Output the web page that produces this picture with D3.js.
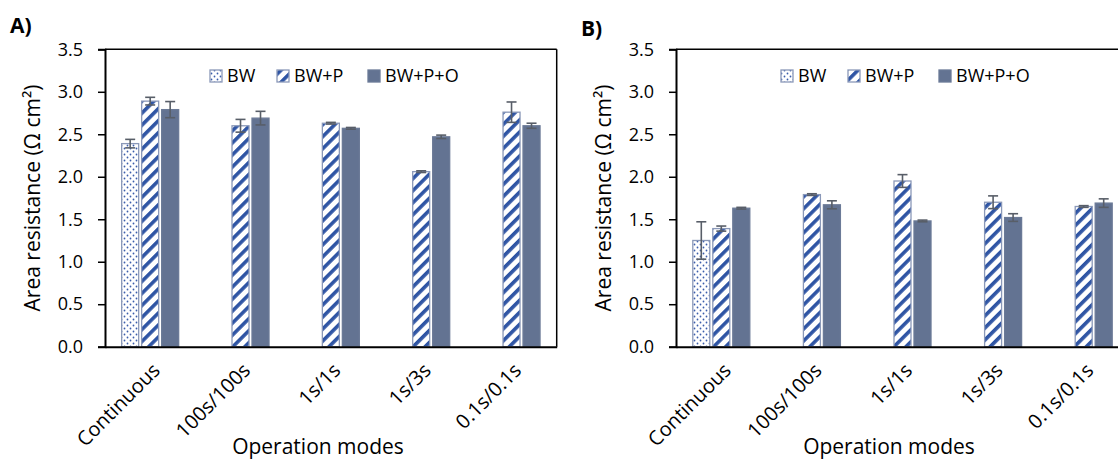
<!DOCTYPE html>
<html>
<head>
<meta charset="utf-8">
<script src="https://cdn.jsdelivr.net/npm/d3@7"></script>
<style>
  body { margin: 0; background: #fff; }
  svg { display: block; font-family: "Open Sans", sans-serif; }
</style>
</head>
<body>
<div id="chart"></div>
<script>
// data
const modes = ['Continuous', '100s/100s', '1s/1s', '1s/3s', '0.1s/0.1s'];
const seriesNames = ['BW', 'BW+P', 'BW+P+O'];
const yTicks = [0, 0.5, 1.0, 1.5, 2.0, 2.5, 3.0, 3.5];

// panel A
const aBW = [2.39, null, null, null, null];
const aBWErr = [0.05, 0, 0, 0, 0];
const aBWP = [2.89, 2.60, 2.63, 2.06, 2.76];
const aBWPErr = [0.045, 0.075, 0.01, 0.01, 0.12];
const aBWPO = [2.79, 2.69, 2.57, 2.47, 2.60];
const aBWPOErr = [0.095, 0.08, 0.01, 0.02, 0.03];

// panel B
const bBW = [1.25, null, null, null, null];
const bBWErr = [0.22, 0, 0, 0, 0];
const bBWP = [1.39, 1.79, 1.95, 1.70, 1.65];
const bBWPErr = [0.03, 0.01, 0.075, 0.075, 0.01];
const bBWPO = [1.63, 1.67, 1.48, 1.52, 1.69];
const bBWPOErr = [0.01, 0.047, 0.01, 0.045, 0.05];

const svg = d3.select('#chart').append('svg')
    .attr('width', 1118)
    .attr('height', 460);

// patterns
const defs = svg.append('defs');
const dots = defs.append('pattern')
    .attr('id', 'dots')
    .attr('patternUnits', 'userSpaceOnUse')
    .attr('width', 6).attr('height', 6);
dots.append('rect').attr('width', 6).attr('height', 6).attr('fill', '#fff');
dots.append('circle').attr('cx', 1.5).attr('cy', 1.5).attr('r', 0.9).attr('fill', '#3a5dab');
dots.append('circle').attr('cx', 4.5).attr('cy', 4.5).attr('r', 0.9).attr('fill', '#3a5dab');

const stripes = defs.append('pattern')
    .attr('id', 'stripes')
    .attr('patternUnits', 'userSpaceOnUse')
    .attr('width', 8.5).attr('height', 8.5)
    .attr('patternTransform', 'rotate(45)');
stripes.append('rect').attr('width', 8.5).attr('height', 8.5).attr('fill', '#fff');
stripes.append('rect').attr('width', 3.6).attr('height', 8.5).attr('fill', '#2f55a4');

const fills = ['url(#dots)', 'url(#stripes)', '#637392'];
const strokes = ['#8a98b8', '#8a98b8', '#6b7a97'];

function drawPanel(left, width, label, labelY, values, errors) {
    const top = 49.3, bottom = 346.7;
    const g = svg.append('g');

    const x = d3.scaleBand().domain(modes).range([left, left + width]);
    const x1 = d3.scaleBand().domain(seriesNames).range([-28.5, 28.5]).paddingInner(0.15);
    const y = d3.scaleLinear().domain([0, 3.5]).range([bottom, top]);

    // frame
    g.append('line').attr('x1', left).attr('x2', left + width)
        .attr('y1', top).attr('y2', top).attr('stroke', '#000').attr('stroke-width', 1.5);
    g.append('line').attr('x1', left + width).attr('x2', left + width)
        .attr('y1', top).attr('y2', bottom).attr('stroke', '#000').attr('stroke-width', 1.5);

    // bars
    seriesNames.forEach((s, si) => {
        const rows = modes.map((m, i) => ({ m: m, v: values[si][i], e: errors[si][i] }))
            .filter(d => d.v != null);
        g.selectAll('rect.s' + si)
            .data(rows)
            .enter().append('rect')
            .attr('class', 's' + si)
            .attr('x', d => x(d.m) + x.bandwidth() / 2 + x1(s))
            .attr('y', d => y(d.v))
            .attr('width', x1.bandwidth())
            .attr('height', d => y(0) - y(d.v))
            .attr('fill', fills[si])
            .attr('stroke', strokes[si])
            .attr('stroke-width', 1.3);

        // error bars
        const eb = g.selectAll('g.e' + si)
            .data(rows)
            .enter().append('g')
            .attr('class', 'e' + si)
            .attr('stroke', '#585e68')
            .attr('stroke-width', 1.6);
        const cx = d => x(d.m) + x.bandwidth() / 2 + x1(s) + x1.bandwidth() / 2;
        eb.append('line')
            .attr('x1', cx).attr('x2', cx)
            .attr('y1', d => y(d.v + d.e)).attr('y2', d => y(d.v - d.e));
        eb.append('line')
            .attr('x1', d => cx(d) - 5).attr('x2', d => cx(d) + 5)
            .attr('y1', d => y(d.v + d.e)).attr('y2', d => y(d.v + d.e));
        eb.append('line')
            .attr('x1', d => cx(d) - 5).attr('x2', d => cx(d) + 5)
            .attr('y1', d => y(d.v - d.e)).attr('y2', d => y(d.v - d.e));
    });

    // y axis
    const yAxis = g.append('g')
        .attr('transform', 'translate(' + left + ',0)')
        .call(d3.axisLeft(y).tickValues(yTicks).tickFormat(d3.format('.1f')).tickSize(7).tickPadding(15));
    yAxis.select('.domain').attr('stroke', '#000').attr('stroke-width', 2);
    yAxis.selectAll('.tick line').attr('stroke', '#000').attr('stroke-width', 1.5);
    yAxis.selectAll('.tick text')
        .attr('font-size', '18px')
        .attr('font-family', '"Open Sans", sans-serif')
        .attr('fill', '#000');

    // x axis
    const xAxis = g.append('g')
        .attr('transform', 'translate(0,' + bottom + ')')
        .call(d3.axisBottom(x).tickSize(0).tickSizeOuter(0));
    xAxis.select('.domain').attr('stroke', '#000').attr('stroke-width', 2);
    xAxis.selectAll('.tick text')
        .attr('font-size', '20px')
        .attr('font-family', '"Open Sans", sans-serif')
        .attr('fill', '#000')
        .attr('text-anchor', 'end')
        .attr('dy', null)
        .attr('y', 0)
        .attr('transform', 'translate(11,25) rotate(-45)');

    // axis titles
    g.append('text')
        .attr('transform', 'translate(' + (left - 65) + ',' + ((top + bottom) / 2) + ') rotate(-90)')
        .attr('text-anchor', 'middle')
        .attr('font-size', '21px')
        .attr('fill', '#000')
        .text('Area resistance (Ω cm²)');
    g.append('text')
        .attr('x', left + 213)
        .attr('y', 454)
        .attr('text-anchor', 'middle')
        .attr('font-size', '21px')
        .attr('fill', '#000')
        .text('Operation modes');

    // panel label
    g.append('text')
        .attr('x', left - 95)
        .attr('y', labelY)
        .attr('font-size', '21px')
        .attr('font-weight', 'bold')
        .attr('fill', '#000')
        .text(label);

    // legend
    const legX = [left + 105, left + 172, left + 263];
    seriesNames.forEach((s, si) => {
        g.append('rect')
            .attr('x', legX[si]).attr('y', 70)
            .attr('width', 12).attr('height', 12)
            .attr('fill', fills[si])
            .attr('stroke', strokes[si])
            .attr('stroke-width', 1.3);
        g.append('text')
            .attr('x', legX[si] + 17)
            .attr('y', 82)
            .attr('font-size', '18px')
            .attr('fill', '#000')
            .text(s);
    });
}

drawPanel(105, 451.7, 'A)', 33, [aBW, aBWP, aBWPO], [aBWErr, aBWPErr, aBWPOErr]);
drawPanel(676, 453, 'B)', 36, [bBW, bBWP, bBWPO], [bBWErr, bBWPErr, bBWPOErr]);
</script>
</body>
</html>
